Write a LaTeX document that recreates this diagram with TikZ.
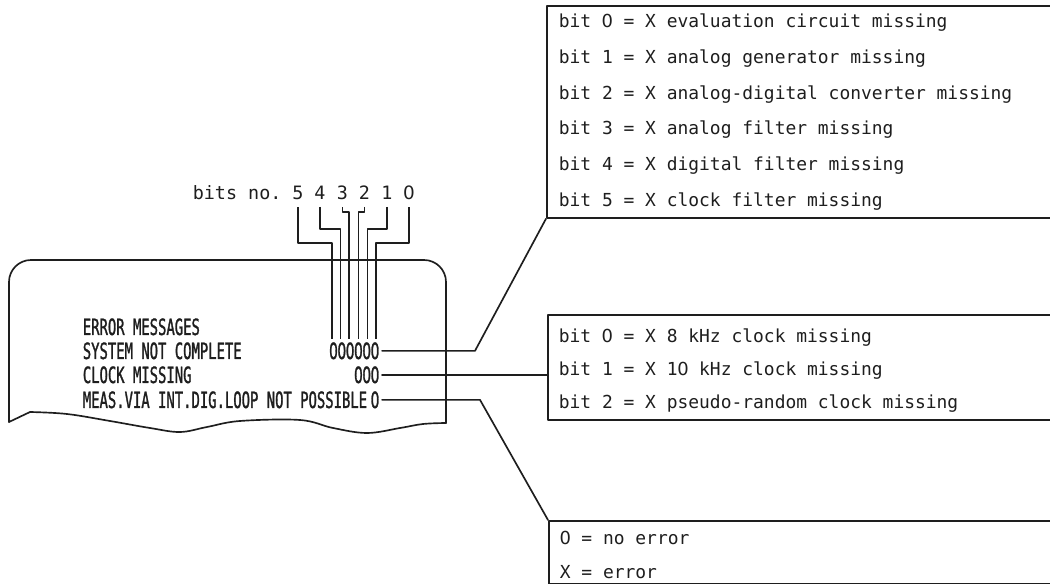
\documentclass[tikz,border=0pt]{standalone}
\usepackage{fontspec}
\newfontfamily\monof{DejaVu Sans Mono}
\newfontfamily\lcdf[FakeStretch=0.62,FakeBold=1.2]{DejaVu Sans Mono}
\newfontfamily\dvsf{DejaVu Sans}
\newfontfamily\dvslcdf[FakeStretch=0.62,FakeBold=1.2]{DejaVu Sans}
\newcommand\zeroM{\makebox[0.602em]{\dvsf 0}}
\newcommand\zeroL{\makebox[6.225pt]{\dvslcdf 0}}
\usetikzlibrary{calc}
\definecolor{ink}{RGB}{30,30,30}
\begin{document}
\begin{tikzpicture}[x=0.75pt,y=-0.75pt,line width=1.25pt,draw=ink,text=ink,line cap=round,line join=round,
  boxf/.style={font=\monof\fontsize{13.45pt}{16pt}\selectfont,inner sep=0pt,anchor=base west},
  bitf/.style={font=\monof\fontsize{13.8pt}{16pt}\selectfont,inner xsep=0pt,inner ysep=4.5pt,anchor=base},
  lcd/.style={font=\lcdf\fontsize{16.8pt}{18pt}\selectfont,inner sep=0pt},
  infobox/.style={draw,line width=1.3pt,anchor=north west,minimum width=400pt,inner sep=0pt}]
\useasboundingbox (0,0) rectangle (1050,584);
\clip (0,0) rectangle (1050,584);

% right-hand boxes (open to the right)
\node[infobox,minimum height=159pt] (bA) at (546,5) {};
\node[infobox,minimum height=78.75pt] (bB) at (547,314) {};
\node[infobox,minimum height=47.25pt] (bC) at (548,520) {};

\node[boxf] (a0) at (558,28) {bit \zeroM{} = X evaluation circuit missing};
\node[boxf] (a1) at (558,64) {bit 1 = X analog generator missing};
\node[boxf] (a2) at (558,100) {bit 2 = X analog-digital converter missing};
\node[boxf] (a3) at (558,135) {bit 3 = X analog filter missing};
\node[boxf] (a4) at (558,171) {bit 4 = X digital filter missing};
\node[boxf] (a5) at (558,207) {bit 5 = X clock filter missing};

\node[boxf] (b0) at (558,343) {bit \zeroM{} = X 8 kHz clock missing};
\node[boxf] (b1) at (558,376) {bit 1 = X 1\zeroM{} kHz clock missing};
\node[boxf] (b2) at (558,409) {bit 2 = X pseudo-random clock missing};

\node[boxf] (c0) at (559,545) {\zeroM{} = no error};
\node[boxf] (c1) at (559,578) {X = error};

% paper print-out
\draw[rounded corners=16.5pt] (9,422) -- (9,260) -- (446,260) -- (446,423);
\draw plot[smooth,tension=0.6] coordinates {(446,423) (423,424) (400,428) (367,433) (333,428) (300,420) (240,421) (207,427) (180,432) (150,428) (110,421) (67,414) (30,412)} -- (9,422);

\node[lcd,anchor=base west] (t1) at (82,335) {ERROR MESSAGES};
\node[lcd,anchor=base west] (t2) at (82,359) {SYSTEM NOT COMPLETE};
\node[lcd,anchor=base west] (t3) at (82,383) {CLOCK MISSING};
\node[lcd,anchor=base west] (t4) at (82,408) {MEAS.VIA INT.DIG.LOOP NOT POSSIBLE};
\node[lcd,anchor=base east,inner xsep=1.5pt] (z6) at (382,359) {\zeroL\zeroL\zeroL\zeroL\zeroL\zeroL};
\node[lcd,anchor=base east,inner xsep=1.5pt] (z3) at (382,383) {\zeroL\zeroL\zeroL};
\node[lcd,anchor=base east,inner xsep=1.5pt] (z1) at (382,408) {\zeroL};

% bit numbers
\node[font=\monof\fontsize{13.8pt}{16pt}\selectfont,inner sep=0pt,anchor=base west] (bitsno) at (192,200) {bits no.};
\node[bitf] (d5) at (298,200) {5};
\node[bitf] (d4) at (320,200) {4};
\node[bitf] (d3) at (342.5,200) {3};
\node[bitf] (d2) at (364.5,200) {2};
\node[bitf] (d1) at (387,200) {1};
\node[bitf] (d0) at (409,200) {\zeroM};

\coordinate (v5) at (332,339);
\coordinate (v4) at (340.5,339);
\coordinate (v3) at (349,339);
\coordinate (v2) at (358.5,339);
\coordinate (v1) at (367.5,339);
\coordinate (v0) at (376,339);

\draw[line cap=butt] (d5.south) |- (332,243) -- (v5);
\draw[line cap=butt] (d4.south) |- (340.5,229) -- (v4);
\draw[line cap=butt] (d3.south) |- (349,212) -- (v3);
\draw[line cap=butt] (d2.south) |- (358.5,212) -- (v2);
\draw[line cap=butt] (d1.south) |- (367.5,229) -- (v1);
\draw[line cap=butt] (d0.south) |- (376,243) -- (v0);

% connectors to the boxes
\draw (z6.east) -- ++(93,0) -- (bA.south west);
\draw (z3.east) -- (z3.east -| bB.west);
\draw (z1.east) -- ++(98,0) -- (bC.north west);
\end{tikzpicture}
\end{document}
